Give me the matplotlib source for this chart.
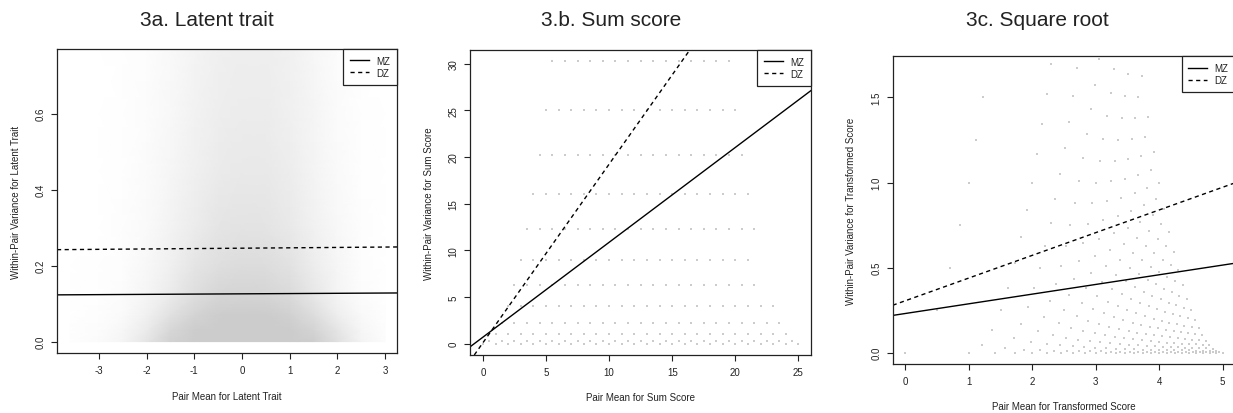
import numpy as np
import matplotlib
matplotlib.use('Agg')
import matplotlib.pyplot as plt
from matplotlib.colors import LinearSegmentedColormap

plt.rcParams['font.family'] = ['Liberation Sans', 'DejaVu Sans']
plt.rcParams['axes.unicode_minus'] = False

# --- 3a: latent trait cloud, gray coverage ---
cloud_x = [-3.6, -3.0, -2.5, -2.0, -1.5, -1.0, -0.5, 0.0, 0.5, 1.0, 1.5, 2.0, 2.5, 3.0]
cloud_y = [0.0, 0.03, 0.07, 0.12, 0.20, 0.30, 0.45, 0.60, 0.77]
cloud_cover = [
    [0.03, 0.08, 0.20, 0.50, 0.88, 1.00, 1.00, 1.00, 1.00, 1.00, 0.95, 0.60, 0.22, 0.07],
    [0.02, 0.06, 0.15, 0.40, 0.78, 0.97, 1.00, 1.00, 1.00, 0.99, 0.85, 0.50, 0.17, 0.05],
    [0.01, 0.04, 0.10, 0.28, 0.58, 0.85, 0.97, 1.00, 0.99, 0.90, 0.66, 0.33, 0.11, 0.03],
    [0.00, 0.03, 0.07, 0.19, 0.40, 0.65, 0.80, 0.85, 0.83, 0.72, 0.48, 0.22, 0.07, 0.01],
    [0.00, 0.02, 0.05, 0.14, 0.30, 0.50, 0.63, 0.68, 0.66, 0.56, 0.36, 0.17, 0.05, 0.01],
    [0.00, 0.01, 0.04, 0.10, 0.23, 0.38, 0.50, 0.54, 0.52, 0.44, 0.28, 0.13, 0.04, 0.00],
    [0.00, 0.01, 0.03, 0.08, 0.17, 0.30, 0.40, 0.44, 0.43, 0.35, 0.22, 0.10, 0.03, 0.00],
    [0.00, 0.00, 0.02, 0.06, 0.14, 0.25, 0.34, 0.38, 0.37, 0.30, 0.19, 0.08, 0.02, 0.00],
    [0.00, 0.00, 0.02, 0.05, 0.12, 0.22, 0.30, 0.34, 0.33, 0.27, 0.16, 0.07, 0.02, 0.00],
]
# fitted lines: (intercept, slope)
latent_mz = (0.1257, 0.0007)
latent_dz = (0.2458, 0.0010)

# --- 3b: sum score lattice, one row per within-pair variance ---
sum_var_rows = [0, 0.25, 1, 2.25, 4, 6.25, 9, 12.25, 16, 20.25, 25, 30.25]
sum_mean_first = [0, 0.5, 1, 1.5, 2, 2.5, 3, 3.5, 4, 4.5, 5, 5.5]
sum_mean_last = [25, 24.5, 24, 23.5, 23, 21.5, 21, 21.5, 21, 20.5, 20, 19.5]
sum_mz = (0.70, 1.016)
sum_dz = (0.10, 1.913)

# --- 3c: square root of the item sum scores ---
score_levels = list(range(26))
sqrt_mz = (0.230, 0.0569)
sqrt_dz = (0.305, 0.1334)

W, H = 1233, 414
fig = plt.figure(figsize=(W / 100, H / 100), dpi=100)
ink = '#222222'
dot_gray = '#cccccc'


def px_axes(left, right, top, bottom):
    return fig.add_axes([left / W, 1 - bottom / H, (right - left) / W, (bottom - top) / H])


def style(ax, xticks, yticks, xlab, ylab, xlab_y, ylab_x):
    ax.set_xticks(xticks)
    ax.set_yticks(yticks)
    ax.tick_params(direction='out', length=4.3, width=0.8, colors=ink,
                   labelsize=7, pad=4)
    ax.tick_params(axis='y', labelrotation=90)
    for lab in ax.get_yticklabels():
        lab.set_va('center')
    for sp in ax.spines.values():
        sp.set_linewidth(0.9)
        sp.set_color(ink)
    ax.set_xlabel(xlab, fontsize=7, color=ink, va='center')
    ax.set_ylabel(ylab, fontsize=7, color=ink, va='center')
    ax.xaxis.set_label_coords(0.5, xlab_y)
    ax.yaxis.set_label_coords(ylab_x, 0.5)


def fit_lines(ax, mz, dz):
    ax.axline((0, mz[0]), slope=mz[1], color='black', lw=1.0, label='MZ')
    ax.axline((0, dz[0]), slope=dz[1], color='black', lw=1.0,
              dashes=(3, 2.5), label='DZ')
    leg = ax.legend(loc='upper right', borderaxespad=0, fancybox=False,
                    framealpha=1, edgecolor=ink, fontsize=7,
                    handlelength=1.9, handletextpad=0.8, labelspacing=0.2,
                    borderpad=0.7)
    leg.get_frame().set_linewidth(0.9)
    for t in leg.get_texts():
        t.set_color(ink)


# 3a
ax1 = px_axes(57, 397, 50, 354)
cmap = LinearSegmentedColormap.from_list('cloud', ['#ffffff', '#cccccc'])
ax1.pcolormesh(cloud_x, cloud_y, np.array(cloud_cover), shading='gouraud',
               cmap=cmap, vmin=0, vmax=1, rasterized=True)
fit_lines(ax1, latent_mz, latent_dz)
ax1.set_xlim(-3.88, 3.25)
ax1.set_ylim(-0.03, 0.77)
style(ax1, [-3, -2, -1, 0, 1, 2, 3], [0.0, 0.2, 0.4, 0.6],
      'Pair Mean for Latent Trait', 'Within-Pair Variance for Latent Trait',
      -0.141, -0.121)
ax1.set_yticklabels(['0.0', '0.2', '0.4', '0.6'])

# 3b
ax2 = px_axes(470.3, 811, 51, 356)
bx, by = [], []
for v, m0, m1 in zip(sum_var_rows, sum_mean_first, sum_mean_last):
    means = np.arange(m0, m1 + 0.01, 1.0)
    bx.extend(means)
    by.extend([v] * len(means))
ax2.scatter(bx, by, s=0.8, marker='s', lw=0, color=dot_gray)
fit_lines(ax2, sum_mz, sum_dz)
ax2.set_xlim(-1, 26)
ax2.set_ylim(-1.21, 31.46)
style(ax2, [0, 5, 10, 15, 20, 25], [0, 5, 10, 15, 20, 25, 30],
      'Pair Mean for Sum Score', 'Within-Pair Variance for Sum Score',
      -0.138, -0.121)

# 3c
ax3 = px_axes(892.7, 1235.3, 57.3, 365)
cx, cy = [], []
for a in score_levels:
    for b in score_levels:
        if b <= a:
            ra, rb = np.sqrt(a), np.sqrt(b)
            cx.append((ra + rb) / 2)
            cy.append(((ra - rb) / 2) ** 2)
ax3.scatter(cx, cy, s=0.8, marker='s', lw=0, color=dot_gray)
fit_lines(ax3, sqrt_mz, sqrt_dz)
ax3.set_xlim(-0.2, 5.2)
ax3.set_ylim(-0.067, 1.742)
style(ax3, [0, 1, 2, 3, 4, 5], [0.0, 0.5, 1.0, 1.5],
      'Pair Mean for Transformed Score', 'Within-Pair Variance for Transformed Score',
      -0.1355, -0.1217)
ax3.set_yticklabels(['0.0', '0.5', '1.0', '1.5'])

for xc, title in [(207, '3a. Latent trait'), (611.5, '3.b. Sum score'),
                  (1037.5, '3c. Square root')]:
    fig.text(xc / W, 1 - 21 / H, title, fontsize=15, ha='center', va='center',
             color=ink)

fig.savefig('out.png', dpi=100)
